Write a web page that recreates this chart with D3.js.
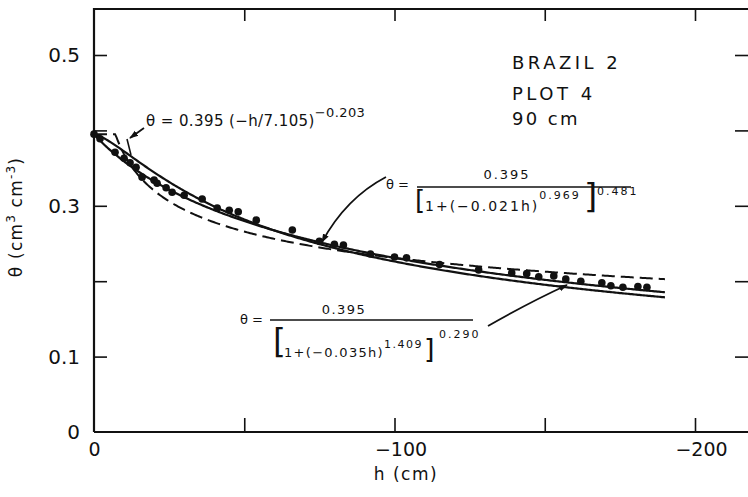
<!DOCTYPE html>
<html>
<head>
<meta charset="utf-8">
<script src="https://cdn.jsdelivr.net/npm/d3@7"></script>
<style>
  body { margin: 0; background: #fff; }
  svg { display: block; }
  text { font-family: "DejaVu Sans", "Liberation Sans", sans-serif; fill: #111; }
</style>
</head>
<body>
<svg id="chart" width="748" height="497"></svg>
<script>
// Measured retention data: Brazil 2, plot 4, 90 cm depth
const pressureHead = [0, -2, -7, -10, -12, -14, -16, -20, -21, -24, -26, -30, -36, -41, -45, -48, -54, -66, -75, -80, -83, -92, -100, -104, -115, -128, -139, -144, -148, -153, -157, -162, -169, -172, -176, -181, -184];
const waterContent = [0.395, 0.389, 0.371, 0.363, 0.357, 0.351, 0.338, 0.334, 0.330, 0.324, 0.318, 0.314, 0.309, 0.297, 0.294, 0.292, 0.281, 0.268, 0.253, 0.249, 0.248, 0.236, 0.232, 0.231, 0.222, 0.215, 0.211, 0.210, 0.206, 0.207, 0.203, 0.200, 0.198, 0.194, 0.192, 0.193, 0.192];

// Fitted models: [thetaS, alpha, n, m] and Brooks-Corey [thetaS, hb, lambda]
const vgFitA = [0.395, 0.021, 0.969, 0.481];
const vgFitB = [0.395, 0.035, 1.409, 0.290];
const bcFit = [0.395, 7.105, 0.203];
const curveEnd = -190;

// Axis ticks and labels
const xTicks = [0, -50, -100, -150, -200];
const xLabels = {"0": "0", "-100": "−100", "-200": "−200"};
const yTicks = [0, 0.1, 0.2, 0.3, 0.4, 0.5];
const yLabels = {"0": "0", "0.1": "0.1", "0.3": "0.3", "0.5": "0.5"};

const svg = d3.select("#chart");
const frame = { left: 94, right: 748, top: 9, bottom: 432 };

const x = d3.scaleLinear().domain([0, -200]).range([94, 695]);
const y = d3.scaleLinear().domain([0, 0.5]).range([432, 55]);

const vg = p => h => p[0] / Math.pow(1 + Math.pow(-p[1] * h, p[2]), p[3]);
const bc = p => h => (-h <= p[1]) ? p[0] : p[0] * Math.pow(-h / p[1], -p[2]);

const hs = d3.range(0, curveEnd - 0.01, -0.5);

// Frame
const g = svg.append("g");
g.append("path")
  .attr("d", `M${frame.left},${frame.bottom}V${frame.top}H${frame.right}M${frame.left},${frame.bottom}H${frame.right}`)
  .attr("fill", "none").attr("stroke", "#111").attr("stroke-width", 2.2);

// Axes (ticks point inward)
const styleAxis = sel => {
  sel.select(".domain").remove();
  sel.selectAll(".tick line").attr("stroke", "#111").attr("stroke-width", 1.6);
  sel.selectAll(".tick text").style("font-family", '"DejaVu Sans", sans-serif').attr("fill", "#111");
};

g.append("g").attr("transform", `translate(0,${frame.bottom})`)
  .call(d3.axisBottom(x).tickValues(xTicks).tickSizeInner(-14).tickSizeOuter(0).tickPadding(11)
    .tickFormat(d => xLabels[String(d)] || ""))
  .call(styleAxis)
  .call(s => s.selectAll(".tick text").attr("font-size", 19)
    .attr("dx", d => d < 0 ? 6 : 0));

g.append("g").attr("transform", `translate(0,${frame.top})`)
  .call(d3.axisTop(x).tickValues(xTicks.filter(d => d < 0)).tickSizeInner(-12).tickSizeOuter(0).tickFormat(""))
  .call(styleAxis);

g.append("g").attr("transform", `translate(${frame.left},0)`)
  .call(d3.axisLeft(y).tickValues(yTicks).tickSizeInner(-13).tickSizeOuter(0).tickPadding(14)
    .tickFormat(d => yLabels[String(d)] || ""))
  .call(styleAxis)
  .call(s => s.selectAll(".tick text").attr("font-size", 20));
g.selectAll(".tick").filter(d => d === 0).select("line").remove();

g.append("g").attr("transform", `translate(${frame.right},0)`)
  .call(d3.axisRight(y).tickValues(yTicks.filter(d => d > 0)).tickSizeInner(-13).tickSizeOuter(0).tickFormat(""))
  .call(styleAxis);

// Axis titles
svg.append("text").attr("x", 406).attr("y", 480).attr("text-anchor", "middle")
  .attr("font-size", 17).attr("letter-spacing", 1.5).text("h (cm)");

const yt = svg.append("text").attr("transform", "translate(22,217) rotate(-90)")
  .attr("text-anchor", "middle").attr("font-size", 17).attr("letter-spacing", 1.2);
yt.append("tspan").text("θ (cm");
yt.append("tspan").attr("dy", -7).attr("font-size", 12).text("3");
yt.append("tspan").attr("dy", 7).text(" cm");
yt.append("tspan").attr("dy", -7).attr("font-size", 12).text("-3");
yt.append("tspan").attr("dy", 7).text(")");

// Model curves
const line = f => d3.line().x(h => x(h)).y(h => y(f(h)))(hs);
svg.append("path").attr("d", line(bc(bcFit))).attr("fill", "none")
  .attr("stroke", "#111").attr("stroke-width", 2).attr("stroke-dasharray", "13,6");
svg.append("path").attr("d", line(vg(vgFitA))).attr("fill", "none")
  .attr("stroke", "#111").attr("stroke-width", 2.2);
svg.append("path").attr("d", line(vg(vgFitB))).attr("fill", "none")
  .attr("stroke", "#111").attr("stroke-width", 2.2);

// Observations
svg.append("g").selectAll("circle").data(pressureHead).join("circle")
  .attr("cx", d => x(d)).attr("cy", (d, i) => y(waterContent[i])).attr("r", 3.8).attr("fill", "#111");

// Site label
const site = svg.append("g").attr("font-size", 18).attr("letter-spacing", 3.5);
site.append("text").attr("x", 512).attr("y", 69).text("BRAZIL 2");
site.append("text").attr("x", 512).attr("y", 100).text("PLOT 4");
site.append("text").attr("x", 512).attr("y", 125).attr("letter-spacing", 2.4).text("90 cm");

// Arrow marker
svg.append("defs").append("marker").attr("id", "arr").attr("viewBox", "0 0 10 10")
  .attr("refX", 9).attr("refY", 5).attr("markerWidth", 5).attr("markerHeight", 5)
  .attr("orient", "auto-start-reverse").attr("markerUnits", "strokeWidth")
  .append("path").attr("d", "M0,1.5L10,5L0,8.5Z").attr("fill", "#111");

const arrow = d => svg.append("path").attr("d", d).attr("fill", "none")
  .attr("stroke", "#111").attr("stroke-width", 1.8).attr("marker-end", "url(#arr)");

// Brooks-Corey label
const e1 = svg.append("text").attr("x", 146).attr("y", 126).attr("font-size", 15).attr("letter-spacing", 0.4);
e1.append("tspan").text("θ = 0.395 (−h/7.105)");
e1.append("tspan").attr("dy", -9).attr("font-size", 13).text("−0.203");
arrow("M144,128L130,138");
svg.append("path").attr("d", "M127,139L131,155").attr("stroke", "#111").attr("stroke-width", 1.6);

// van Genuchten label (upper)
const eq2 = svg.append("g");
eq2.append("text").attr("x", 386).attr("y", 189).attr("font-size", 13).text("θ =");
eq2.append("line").attr("x1", 417).attr("x2", 631).attr("y1", 187).attr("y2", 187)
  .attr("stroke", "#111").attr("stroke-width", 1.6);
eq2.append("text").attr("x", 507).attr("y", 179).attr("text-anchor", "middle")
  .attr("font-size", 13).attr("letter-spacing", 2).text("0.395");
eq2.append("text").attr("x", 415).attr("y", 209).attr("font-size", 26).text("[");
const d2 = eq2.append("text").attr("x", 425).attr("y", 211).attr("font-size", 14).attr("letter-spacing", 2);
d2.append("tspan").text("1+(−0.021h)");
d2.append("tspan").attr("dy", -12).attr("font-size", 11).text("0.969");
eq2.append("text").attr("x", 584).attr("y", 208).attr("font-size", 34).text("]");
eq2.append("text").attr("x", 597).attr("y", 195).attr("font-size", 11).attr("letter-spacing", 2).text("0.481");
arrow("M386,177Q346,198 322,242");

// van Genuchten label (lower)
const eq3 = svg.append("g");
eq3.append("text").attr("x", 240).attr("y", 324).attr("font-size", 13).text("θ =");
eq3.append("line").attr("x1", 270).attr("x2", 473).attr("y1", 320).attr("y2", 320)
  .attr("stroke", "#111").attr("stroke-width", 1.6);
eq3.append("text").attr("x", 344).attr("y", 314).attr("text-anchor", "middle")
  .attr("font-size", 13).attr("letter-spacing", 1.5).text("0.395");
eq3.append("text").attr("x", 273).attr("y", 353).attr("font-size", 33).text("[");
const d3t = eq3.append("text").attr("x", 284).attr("y", 357).attr("font-size", 13).attr("letter-spacing", 1.3);
d3t.append("tspan").text("1+(−0.035h)");
d3t.append("tspan").attr("dy", -9).attr("font-size", 11).attr("letter-spacing", 1.5).text("1.409");
eq3.append("text").attr("x", 424).attr("y", 358).attr("font-size", 27).text("]");
eq3.append("text").attr("x", 439).attr("y", 338).attr("font-size", 11).attr("letter-spacing", 2).text("0.290");
arrow("M488,326Q530,302 567,285");
</script>
</body>
</html>
